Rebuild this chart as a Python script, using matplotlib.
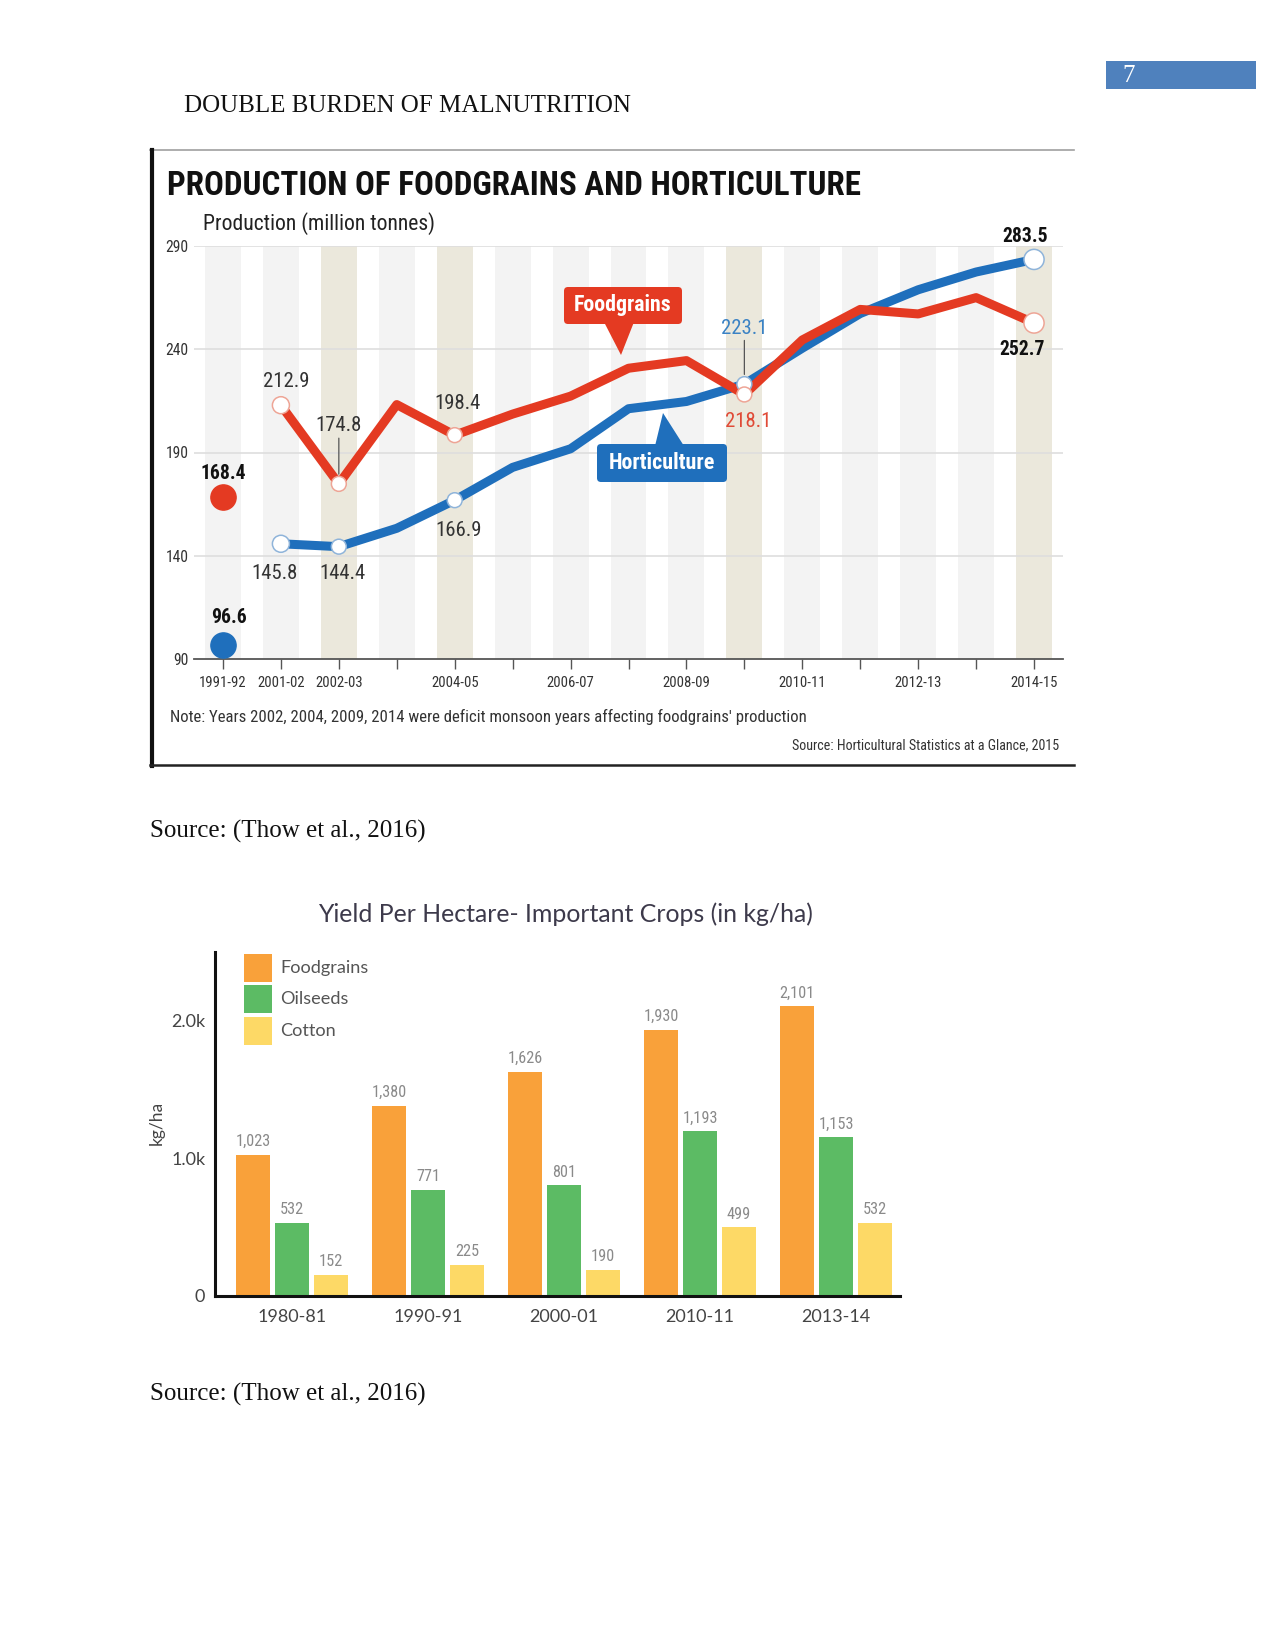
import matplotlib
matplotlib.use('Agg')
import matplotlib.pyplot as plt
from matplotlib import font_manager as fm
from matplotlib.patches import Rectangle, FancyBboxPatch, Polygon
import numpy as np

# ---------------- data ----------------
years = ['1991-92', '2001-02', '2002-03', '2003-04', '2004-05', '2005-06', '2006-07',
         '2007-08', '2008-09', '2009-10', '2010-11', '2011-12', '2012-13', '2013-14', '2014-15']
shown_year_labels = ['1991-92', '2001-02', '2002-03', '2004-05', '2006-07', '2008-09',
                     '2010-11', '2012-13', '2014-15']
deficit_years = ['2002-03', '2004-05', '2009-10', '2014-15']
marker_years = ['2001-02', '2002-03', '2004-05', '2009-10', '2014-15']
# 2001-02 .. 2014-15
foodgrains = [212.9, 174.8, 213.2, 198.4, 208.6, 217.3, 230.8, 234.5, 218.1, 244.5,
              259.3, 257.1, 265.0, 252.7]
horticulture = [145.8, 144.4, 153.3, 166.9, 182.8, 191.8, 211.2, 214.7, 223.1, 240.5,
                257.3, 268.8, 277.4, 283.5]
food_1991 = 168.4
horti_1991 = 96.6
y_ticks = [90, 140, 190, 240, 290]

crop_years = ['1980-81', '1990-91', '2000-01', '2010-11', '2013-14']
crop_names = ['Foodgrains', 'Oilseeds', 'Cotton']
yield_food = [1023, 1380, 1626, 1930, 2101]
yield_oil = [532, 771, 801, 1193, 1153]
yield_cotton = [152, 225, 190, 499, 532]
yield_ticks = [0, 1000, 2000]
yield_tick_labels = ['0', '1.0k', '2.0k']


# ---------------- fonts ----------------
def available(name):
    try:
        fm.findfont(fm.FontProperties(family=name), fallback_to_default=False)
        return True
    except Exception:
        return False


narrow_first = next((f for f in ['Liberation Sans Narrow', 'Roboto Condensed',
                                 'Open Sans Condensed', 'Noto Sans Condensed',
                                 'DejaVu Sans Condensed', 'Liberation Sans']
                     if available(f)), 'DejaVu Sans')
NARROW = [narrow_first, 'Liberation Sans', 'DejaVu Sans']
SERIF = ['Liberation Serif', 'DejaVu Serif']
GEO = ['Lato', 'DejaVu Sans']
plt.rcParams['font.family'] = NARROW

W, H = 1275, 1650
fig = plt.figure(figsize=(W / 100, H / 100), dpi=100)
fig.patch.set_facecolor('white')
renderer = fig.canvas.get_renderer()


def size_for(sample, target_px, base=12, **kw):
    t = fig.text(0, 0, sample, fontsize=base, **kw)
    w = t.get_window_extent(renderer).width
    t.remove()
    return base * target_px / w


def fit(t, target_px):
    w = t.get_window_extent(renderer).width
    t.set_fontsize(t.get_fontsize() * target_px / w)
    return t


def rect(l, t, r, b):
    return [l / W, 1 - b / H, (r - l) / W, (b - t) / H]


RED = '#e43a22'
BLUE = '#1f6fbc'
LIGHT = '#f3f3f3'
BEIGE = '#ebe8dc'

# ---------------- top chart ----------------
ax1 = fig.add_axes(rect(194, 246, 1063, 659))
n = len(years)
x = np.arange(n)
ax1.set_xlim(-0.5, n - 0.5)
ax1.set_ylim(y_ticks[0], y_ticks[-1])
for i, yr in enumerate(years):
    ax1.axvspan(i - 0.31, i + 0.31, color=BEIGE if yr in deficit_years else LIGHT,
                lw=0, zorder=0)
for yv in y_ticks[1:]:
    ax1.axhline(yv, color='#dedede', lw=1.2, zorder=1)
for s in ['top', 'right', 'left']:
    ax1.spines[s].set_visible(False)
ax1.spines['bottom'].set_color('#555555')
ax1.spines['bottom'].set_linewidth(1.3)
ax1.set_xticks(x)
xt_size = size_for('1991-92', 47)
ax1.set_xticklabels([yr if yr in shown_year_labels else '' for yr in years],
                    fontsize=xt_size, color='#333333')
ax1.tick_params(axis='x', length=7, width=1, color='#555555', pad=5)
ax1.set_yticks(y_ticks)
ax1.set_yticklabels([str(v) for v in y_ticks], fontsize=size_for('290', 23), color='#333333')
ax1.tick_params(axis='y', length=0, pad=4)

xs = x[1:]
ax1.plot(xs, horticulture, color=BLUE, lw=6.5, solid_joinstyle='round',
         solid_capstyle='round', zorder=3)
ax1.plot(xs, foodgrains, color=RED, lw=6.5, solid_joinstyle='round',
         solid_capstyle='round', zorder=4)
mk_idx = [years.index(y) for y in marker_years]
sizes = [210 if y == years[-1] else (150 if y == years[1] else 115) for y in marker_years]
ax1.scatter(mk_idx, [horticulture[i - 1] for i in mk_idx], s=sizes, facecolor='white',
            edgecolor='#8fb4da', lw=1.1, zorder=5)
ax1.scatter(mk_idx, [foodgrains[i - 1] for i in mk_idx], s=sizes, facecolor='white',
            edgecolor='#eea596', lw=1.1, zorder=6)
ax1.scatter([0], [food_1991], s=330, color=RED, zorder=5)
ax1.scatter([0], [horti_1991], s=330, color=BLUE, zorder=5)

val_size = size_for('212.9', 46)
bold_size = size_for('168.4', 45, fontweight='bold')


def label(xi, yv, dx, dy, color='#333333', weight='normal', leader=False):
    kw = {}
    if leader:
        kw['arrowprops'] = dict(arrowstyle='-', color='#555555', lw=0.9,
                                shrinkA=0, shrinkB=7)
    ax1.annotate(f'{yv:.1f}', (xi, yv), xytext=(dx, dy), textcoords='offset pixels',
                 ha='center', va='center',
                 fontsize=bold_size if weight == 'bold' else val_size, color=color,
                 fontweight=weight, zorder=7, annotation_clip=False, **kw)


i01, i02, i04, i09, i14 = mk_idx
label(0, food_1991, 0, 24, color='#111111', weight='bold')
label(0, horti_1991, 6, 28, color='#111111', weight='bold')
label(i01, foodgrains[i01 - 1], 5, 24)
label(i02, foodgrains[i02 - 1], 0, 58, leader=True)
label(i04, foodgrains[i04 - 1], 3, 32)
label(i04, horticulture[i04 - 1], 4, -30)
label(i01, horticulture[i01 - 1], -6, -30)
label(i02, horticulture[i02 - 1], 4, -27)
label(i09, horticulture[i09 - 1], 0, 56, color='#3b82c4', leader=True)
label(i09, foodgrains[i09 - 1], 4, -27, color='#e04a36')
label(i14, horticulture[i14 - 1], -9, 23, color='#111111', weight='bold')
label(i14, foodgrains[i14 - 1], -12, -26, color='#111111', weight='bold')

# ---------------- bar chart ----------------
ax2 = fig.add_axes(rect(215, 952, 900, 1296))
g = np.arange(len(crop_years))
ax2.set_xlim(-0.566, 4.47)
ax2.set_ylim(0, 2493)
bw = 34 / 136
off = 39 / 136
colors = ['#f9a13a', '#5cbb64', '#fdd966']
bar_val_size = size_for('1,023', 35)
for k, vals in enumerate([yield_food, yield_oil, yield_cotton]):
    b = ax2.bar(g + (k - 1) * off, vals, width=bw, color=colors[k], zorder=2)
    ax2.bar_label(b, labels=[f'{v:,}' for v in vals], padding=4, fontsize=bar_val_size,
                  color='#8a8a8a')
for s in ['top', 'right']:
    ax2.spines[s].set_visible(False)
for s in ['left', 'bottom']:
    ax2.spines[s].set_color('#111111')
    ax2.spines[s].set_linewidth(2.2)
ax2.set_yticks(yield_ticks)
ax2.set_yticklabels(yield_tick_labels, fontsize=13, color='#444444', family=GEO)
ax2.set_xticks(g)
ax2.set_xticklabels(crop_years, fontsize=13, color='#444444', family=GEO)
ax2.tick_params(axis='y', length=0, pad=7)
ax2.tick_params(axis='x', length=0, pad=9)
ax2.set_ylabel('kg/ha', fontsize=12.5, color='#444444', family=GEO)
ax2.yaxis.set_label_coords(-0.073, 0.503)

# ---------------- page decorations ----------------
ov = fig.add_axes([0, 0, 1, 1], zorder=10)
ov.set_xlim(0, W)
ov.set_ylim(H, 0)
ov.axis('off')

# legend of the bar chart
leg_size = size_for('Foodgrains', 88, family=GEO)
for k, name in enumerate(crop_names):
    ov.add_patch(Rectangle((244, 954 + 31.3 * k), 28, 28, fc=colors[k], ec='none'))
    ov.text(280, 968 + 31.3 * k, name, family=GEO, fontsize=leg_size, color='#555555',
            va='center')

ov.add_patch(Rectangle((1106, 61), 150, 28, fc='#4f81bd', ec='none'))
ov.text(1129, 76, '7', color='white', fontsize=18, family=SERIF, ha='center', va='center')
ov.text(184, 112, 'DOUBLE BURDEN OF MALNUTRITION', family=SERIF, fontsize=18,
        va='baseline', color='#111111')

ov.plot([150, 1074], [150, 150], color='#a0a0a0', lw=1.2)
ov.plot([152, 152], [150, 766], color='#111111', lw=3)
ov.plot([150, 1074], [765, 765], color='#222222', lw=1.8)

fit(ov.text(167, 186, 'PRODUCTION OF FOODGRAINS AND HORTICULTURE', fontsize=24,
            fontweight='bold', color='#111111', va='center', ha='left'), 694)
fit(ov.text(203, 224, 'Production (million tonnes)', fontsize=16, color='#222222',
            va='center'), 233)
fit(ov.text(170, 717, "Note: Years 2002, 2004, 2009, 2014 were deficit monsoon years affecting foodgrains' production",
            fontsize=12, color='#333333', va='center'), 637)
fit(ov.text(1059, 745, 'Source: Horticultural Statistics at a Glance, 2015', fontsize=9.5,
            ha='right', va='center', color='#333333'), 269)

ov.add_patch(FancyBboxPatch((564, 287), 118, 37, boxstyle='round,pad=0,rounding_size=4',
                            fc=RED, ec='none'))
ov.add_patch(Polygon([(604, 322), (634, 322), (621, 355)], closed=True, fc=RED, ec='none'))
fit(ov.text(623, 305, 'Foodgrains', color='white', fontsize=15, fontweight='bold',
            ha='center', va='center'), 98)
ov.add_patch(FancyBboxPatch((597, 444), 130, 38, boxstyle='round,pad=0,rounding_size=4',
                            fc=BLUE, ec='none'))
ov.add_patch(Polygon([(655, 446), (684, 446), (663, 413)], closed=True, fc=BLUE, ec='none'))
fit(ov.text(662, 463, 'Horticulture', color='white', fontsize=15, fontweight='bold',
            ha='center', va='center'), 106)

fit(ov.text(565, 914, 'Yield Per Hectare- Important Crops (in kg/ha)', family=GEO,
            fontsize=17, color='#3d3a4b', ha='center', va='center'), 496)

ov.text(150, 831, 'Source: (Thow et al., 2016)', family=SERIF, fontsize=18,
        va='center', color='#111111')
ov.text(150, 1394, 'Source: (Thow et al., 2016)', family=SERIF, fontsize=18,
        va='center', color='#111111')

fig.savefig('out.png', dpi=100, facecolor='white')
